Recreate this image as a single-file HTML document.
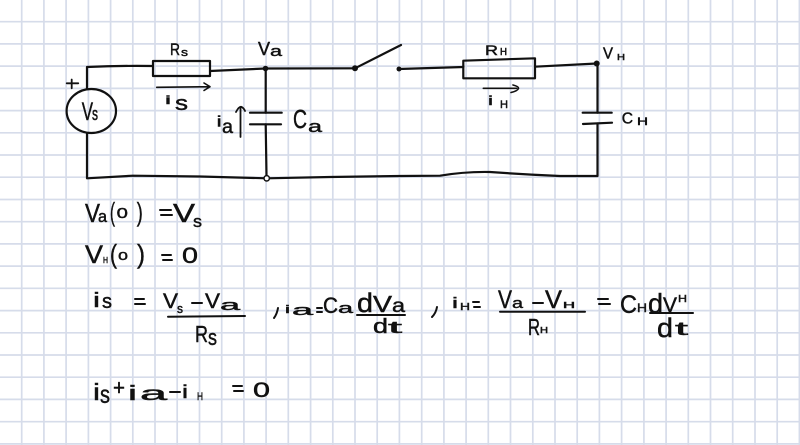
<!DOCTYPE html>
<html>
<head>
<meta charset="utf-8">
<style>
html,body{margin:0;padding:0;background:#fff;}
svg{display:block;}
text{font-family:"Liberation Sans",sans-serif;fill:#111;stroke:#111;stroke-width:0.45;}
</style>
</head>
<body>
<svg width="800" height="445" viewBox="0 0 800 445" xmlns="http://www.w3.org/2000/svg">
<rect width="800" height="445" fill="#fff"/>
<g stroke="#d6dcea" stroke-width="1.7">
<line x1="21.7" y1="0" x2="21.7" y2="445"/><line x1="43.9" y1="0" x2="43.9" y2="445"/><line x1="66.1" y1="0" x2="66.1" y2="445"/><line x1="88.4" y1="0" x2="88.4" y2="445"/><line x1="110.6" y1="0" x2="110.6" y2="445"/><line x1="132.8" y1="0" x2="132.8" y2="445"/><line x1="155" y1="0" x2="155" y2="445"/><line x1="177.2" y1="0" x2="177.2" y2="445"/><line x1="199.5" y1="0" x2="199.5" y2="445"/><line x1="221.7" y1="0" x2="221.7" y2="445"/><line x1="243.9" y1="0" x2="243.9" y2="445"/><line x1="266.1" y1="0" x2="266.1" y2="445"/><line x1="288.3" y1="0" x2="288.3" y2="445"/><line x1="310.6" y1="0" x2="310.6" y2="445"/><line x1="332.8" y1="0" x2="332.8" y2="445"/><line x1="355" y1="0" x2="355" y2="445"/><line x1="377.2" y1="0" x2="377.2" y2="445"/><line x1="399.4" y1="0" x2="399.4" y2="445"/><line x1="421.7" y1="0" x2="421.7" y2="445"/><line x1="443.9" y1="0" x2="443.9" y2="445"/><line x1="466.1" y1="0" x2="466.1" y2="445"/><line x1="488.3" y1="0" x2="488.3" y2="445"/><line x1="510.5" y1="0" x2="510.5" y2="445"/><line x1="532.8" y1="0" x2="532.8" y2="445"/><line x1="555" y1="0" x2="555" y2="445"/><line x1="577.2" y1="0" x2="577.2" y2="445"/><line x1="599.4" y1="0" x2="599.4" y2="445"/><line x1="621.6" y1="0" x2="621.6" y2="445"/><line x1="643.9" y1="0" x2="643.9" y2="445"/><line x1="666.1" y1="0" x2="666.1" y2="445"/><line x1="688.3" y1="0" x2="688.3" y2="445"/><line x1="710.5" y1="0" x2="710.5" y2="445"/><line x1="732.7" y1="0" x2="732.7" y2="445"/><line x1="755" y1="0" x2="755" y2="445"/><line x1="777.2" y1="0" x2="777.2" y2="445"/><line x1="799.4" y1="0" x2="799.4" y2="445"/>
<line x1="0" y1="21.7" x2="800" y2="21.7"/><line x1="0" y1="43.9" x2="800" y2="43.9"/><line x1="0" y1="66.1" x2="800" y2="66.1"/><line x1="0" y1="88.4" x2="800" y2="88.4"/><line x1="0" y1="110.6" x2="800" y2="110.6"/><line x1="0" y1="132.8" x2="800" y2="132.8"/><line x1="0" y1="155" x2="800" y2="155"/><line x1="0" y1="177.2" x2="800" y2="177.2"/><line x1="0" y1="199.5" x2="800" y2="199.5"/><line x1="0" y1="221.7" x2="800" y2="221.7"/><line x1="0" y1="243.9" x2="800" y2="243.9"/><line x1="0" y1="266.1" x2="800" y2="266.1"/><line x1="0" y1="288.3" x2="800" y2="288.3"/><line x1="0" y1="310.6" x2="800" y2="310.6"/><line x1="0" y1="332.8" x2="800" y2="332.8"/><line x1="0" y1="355" x2="800" y2="355"/><line x1="0" y1="377.2" x2="800" y2="377.2"/><line x1="0" y1="399.4" x2="800" y2="399.4"/><line x1="0" y1="421.7" x2="800" y2="421.7"/><line x1="0" y1="443.9" x2="800" y2="443.9"/>
</g>

<!-- circuit -->
<g fill="none" stroke="#111" stroke-width="2.2" stroke-linecap="round" stroke-linejoin="round">
  <path d="M87,89 L87,67 Q120,65.5 153,66"/>
  <rect x="153" y="61" width="57" height="15"/>
  <path d="M210,71 L265.5,68.5 L355,68.3"/>
  <path d="M355,68.3 L401,45"/>
  <path d="M399,69 L463.3,67"/>
  <path d="M463.3,60.7 L535,58.3 L535,78.3 L463.3,78.3 Z"/>
  <path d="M535,66.7 L596.7,63.5"/>
  <path d="M597.5,63.5 L597.5,112.7"/>
  <path d="M582.7,112.7 L611.7,112.7"/>
  <path d="M583,124 L612,122.7"/>
  <path d="M597.5,123.5 L597.5,176 L560,176 Q525,174.5 490,172 Q465,171.5 440,175.7 L400,176 L330,177 L266.7,178.3 L200,176.5 L133,175.7 L87,178.3 L87,133"/>
  <ellipse cx="91.3" cy="111" rx="24.7" ry="22"/>
  <path d="M265.7,68.5 L265.7,112.7"/>
  <path d="M250,112.7 L281.7,112.7"/>
  <path d="M250,124.3 L281,124.3"/>
  <path d="M265.7,124.3 L266.5,175.5"/>
  <path d="M66.7,83.3 L78.3,83.3 M71.7,79.5 L71.7,88.3" stroke-width="1.8"/>
  <path d="M156.7,87.3 L210,86.7 M204,83 L210,86.7 L204,90.5" stroke-width="1.6"/>
  <path d="M240.5,137 L240.5,108 M236,112 Q239,106.5 241,106.8 Q243.5,107.5 245,111" stroke-width="1.8"/>
  <path d="M483.3,88.3 L516.7,88.3 M513,85 Q519,86.5 518.5,88.5 Q517.5,91 511,92.5" stroke-width="1.6"/>
</g>
<circle cx="265.5" cy="68.5" r="2.8" fill="#111"/>
<circle cx="355" cy="68.3" r="3" fill="#111"/>
<circle cx="399" cy="69" r="2.5" fill="#111"/>
<circle cx="596.7" cy="63.5" r="3" fill="#111"/>
<circle cx="266.7" cy="178.3" r="2.7" fill="#fff" stroke="#111" stroke-width="1.5"/>

<!-- circuit labels -->
<text x="170" y="55" font-size="17" textLength="10" lengthAdjust="spacingAndGlyphs">R</text>
<text x="181" y="56" font-size="11" textLength="7" lengthAdjust="spacingAndGlyphs">s</text>
<text x="165" y="104" font-size="12" textLength="6" lengthAdjust="spacingAndGlyphs">i</text>
<text x="175" y="110" font-size="20" textLength="13" lengthAdjust="spacingAndGlyphs">s</text>
<text x="81.7" y="120" font-size="25" textLength="11.3" lengthAdjust="spacingAndGlyphs">V</text>
<text x="92" y="120" font-size="18" textLength="6" lengthAdjust="spacingAndGlyphs">s</text>
<text x="258" y="55" font-size="18" textLength="12" lengthAdjust="spacingAndGlyphs">V</text>
<text x="270" y="56" font-size="15" textLength="12" lengthAdjust="spacingAndGlyphs">a</text>
<text x="216.7" y="126.7" font-size="15" textLength="5" lengthAdjust="spacingAndGlyphs">i</text>
<text x="222" y="133" font-size="19" textLength="11" lengthAdjust="spacingAndGlyphs">a</text>
<text x="293" y="128" font-size="26" textLength="14" lengthAdjust="spacingAndGlyphs">C</text>
<text x="308" y="132" font-size="17" textLength="14" lengthAdjust="spacingAndGlyphs">a</text>
<text x="485" y="55" font-size="14" textLength="13" lengthAdjust="spacingAndGlyphs">R</text>
<text x="500" y="55" font-size="10" textLength="7" lengthAdjust="spacingAndGlyphs">H</text>
<text x="488" y="105" font-size="13" textLength="5" lengthAdjust="spacingAndGlyphs">i</text>
<text x="500" y="108" font-size="11" textLength="8" lengthAdjust="spacingAndGlyphs">H</text>
<text x="603" y="58.5" font-size="16" textLength="10" lengthAdjust="spacingAndGlyphs">V</text>
<text x="617" y="60" font-size="8" textLength="8" lengthAdjust="spacingAndGlyphs">H</text>
<text x="621.7" y="123.3" font-size="16" textLength="11.3" lengthAdjust="spacingAndGlyphs">C</text>
<text x="637" y="125" font-size="11" textLength="11" lengthAdjust="spacingAndGlyphs">H</text>

<g fill="none" stroke="#111" stroke-width="2" stroke-linecap="round">
  <path d="M160,210 L171,210 M161,215 L172,215"/>
  <path d="M162,255 L171,255 M163,260 L172,260"/>
  <path d="M135,299 L144,299 M135,304 L145,304"/>
  <path d="M192,303 L202,303"/>
  <path d="M168,316.7 L245,316"/>
  <path d="M278,308 Q277,314 274,318"/>
  <path d="M317,308 L322,308 M317,312 L322,312"/>
  <path d="M357,315 L405,315"/>
  <path d="M437,307 Q436,313 432,317"/>
  <path d="M473,302 L479,302 M474,307 L480,307"/>
  <path d="M533,303 L543,303"/>
  <path d="M500,311.7 L585,311.7"/>
  <path d="M598,299 L608,299 M599,304 L610,304"/>
  <path d="M650,313 L693,313"/>
  <path d="M170,392 L180,392"/>
  <path d="M233,386 L242,386 M234,391 L243,391"/>
</g>

<!-- line 1 -->
<text x="85" y="222" font-size="26" textLength="15" lengthAdjust="spacingAndGlyphs">V</text>
<text x="98" y="222" font-size="17" textLength="9" lengthAdjust="spacingAndGlyphs">a</text>
<text x="110" y="221" font-size="26" textLength="5" lengthAdjust="spacingAndGlyphs">(</text>
<text x="116.7" y="218" font-size="15" textLength="11.3" lengthAdjust="spacingAndGlyphs">0</text>
<text x="136.7" y="221" font-size="26" textLength="6" lengthAdjust="spacingAndGlyphs">)</text>
<text x="173" y="222" font-size="26" textLength="22" lengthAdjust="spacingAndGlyphs">V</text>
<text x="193" y="227" font-size="17" textLength="9" lengthAdjust="spacingAndGlyphs">s</text>

<!-- line 2 -->
<text x="85" y="263" font-size="25" textLength="18" lengthAdjust="spacingAndGlyphs">V</text>
<text x="103" y="263" font-size="8" textLength="5" lengthAdjust="spacingAndGlyphs">H</text>
<text x="110" y="263" font-size="26" textLength="7" lengthAdjust="spacingAndGlyphs">(</text>
<text x="118" y="260" font-size="15" textLength="10" lengthAdjust="spacingAndGlyphs">o</text>
<text x="137" y="263" font-size="26" textLength="8" lengthAdjust="spacingAndGlyphs">)</text>
<text x="182" y="263" font-size="22" textLength="16" lengthAdjust="spacingAndGlyphs">0</text>

<!-- line 3 -->
<text x="93" y="307" font-size="20" textLength="7" lengthAdjust="spacingAndGlyphs">i</text>
<text x="102" y="308" font-size="20" textLength="10" lengthAdjust="spacingAndGlyphs">s</text>
<text x="163" y="308" font-size="21" textLength="15" lengthAdjust="spacingAndGlyphs">V</text>
<text x="177" y="313" font-size="13" textLength="6" lengthAdjust="spacingAndGlyphs">s</text>
<text x="205" y="308" font-size="21" textLength="15" lengthAdjust="spacingAndGlyphs">V</text>
<text x="220" y="310" font-size="15" textLength="20" lengthAdjust="spacingAndGlyphs">a</text>
<text x="195" y="342" font-size="23" textLength="13" lengthAdjust="spacingAndGlyphs">R</text>
<text x="208" y="345" font-size="22" textLength="9" lengthAdjust="spacingAndGlyphs">s</text>
<text x="285" y="313" font-size="11" textLength="5" lengthAdjust="spacingAndGlyphs">i</text>
<text x="292" y="315" font-size="15" textLength="21" lengthAdjust="spacingAndGlyphs">a</text>
<text x="323" y="313" font-size="22" textLength="15" lengthAdjust="spacingAndGlyphs">C</text>
<text x="338" y="313" font-size="15" textLength="15" lengthAdjust="spacingAndGlyphs">a</text>
<text x="357" y="312" font-size="27" textLength="16" lengthAdjust="spacingAndGlyphs">d</text>
<text x="373" y="312" font-size="23" textLength="19" lengthAdjust="spacingAndGlyphs">V</text>
<text x="392" y="312" font-size="19" textLength="13" lengthAdjust="spacingAndGlyphs">a</text>
<text x="373" y="333" font-size="20" textLength="15" lengthAdjust="spacingAndGlyphs">d</text>
<text x="388" y="333" font-size="17" textLength="14" lengthAdjust="spacingAndGlyphs">t</text>

<text x="452" y="308" font-size="15" textLength="6" lengthAdjust="spacingAndGlyphs">i</text>
<text x="460" y="310" font-size="10" textLength="10" lengthAdjust="spacingAndGlyphs">H</text>
<text x="498" y="308" font-size="25" textLength="14" lengthAdjust="spacingAndGlyphs">V</text>
<text x="512" y="308" font-size="15" textLength="11" lengthAdjust="spacingAndGlyphs">a</text>
<text x="545" y="308" font-size="25" textLength="17" lengthAdjust="spacingAndGlyphs">V</text>
<text x="563" y="308" font-size="8" textLength="12" lengthAdjust="spacingAndGlyphs">H</text>
<text x="528" y="335" font-size="23" textLength="12" lengthAdjust="spacingAndGlyphs">R</text>
<text x="540" y="333" font-size="8" textLength="8" lengthAdjust="spacingAndGlyphs">H</text>
<text x="620" y="313" font-size="25" textLength="17" lengthAdjust="spacingAndGlyphs">C</text>
<text x="637" y="312" font-size="12" textLength="10" lengthAdjust="spacingAndGlyphs">H</text>
<text x="648" y="313" font-size="28" textLength="15" lengthAdjust="spacingAndGlyphs">d</text>
<text x="663" y="312" font-size="21" textLength="14" lengthAdjust="spacingAndGlyphs">V</text>
<text x="678" y="302" font-size="10" textLength="9" lengthAdjust="spacingAndGlyphs">H</text>
<text x="657" y="337" font-size="27" textLength="16" lengthAdjust="spacingAndGlyphs">d</text>
<text x="675" y="335" font-size="18" textLength="13" lengthAdjust="spacingAndGlyphs">t</text>

<!-- line 4 -->
<text x="93" y="400" font-size="23" textLength="7" lengthAdjust="spacingAndGlyphs">i</text>
<text x="100" y="403" font-size="25" textLength="10" lengthAdjust="spacingAndGlyphs">s</text>
<text x="113" y="395" font-size="22" textLength="12" lengthAdjust="spacingAndGlyphs">+</text>
<text x="128" y="400" font-size="20" textLength="9" lengthAdjust="spacingAndGlyphs">i</text>
<text x="140" y="400" font-size="19" textLength="27" lengthAdjust="spacingAndGlyphs">a</text>
<text x="182" y="398" font-size="18" textLength="6" lengthAdjust="spacingAndGlyphs">i</text>
<text x="197" y="400" font-size="11" textLength="6" lengthAdjust="spacingAndGlyphs">H</text>
<text x="253" y="397" font-size="21" textLength="17" lengthAdjust="spacingAndGlyphs">0</text>
</svg>
</body>
</html>
